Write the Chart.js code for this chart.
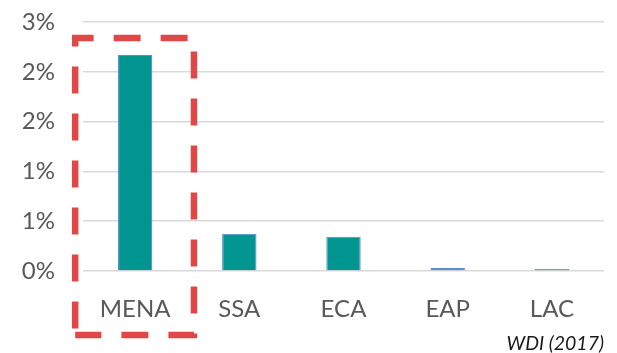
<!DOCTYPE html>
<html>
<head>
<meta charset="utf-8">
<script src="https://cdn.jsdelivr.net/npm/chart.js@4/dist/chart.umd.min.js"></script>
<style>
  html, body { margin: 0; padding: 0; background: #ffffff; }
  #wrap { width: 617px; height: 353px; position: relative; }
</style>
</head>
<body>
<div id="wrap"><canvas id="c" width="617" height="353"></canvas></div>
<script>
// Regions and their share (in percent)
const regions = ['MENA', 'SSA', 'ECA', 'EAP', 'LAC'];
const shares = [2.17, 0.375, 0.345, 0.03, 0.02];
const yTickValues = [0, 0.5, 1, 1.5, 2, 2.5];
const yTickLabels = ['0%', '1%', '1%', '2%', '2%', '3%'];
const sourceNote = 'WDI (2017)';
const highlighted = 'MENA';

const TEXT = '#595959';
const FONT = 'Lato, "Open Sans", sans-serif';

// Dashed red frame around the highlighted region plus the source note
const overlay = {
  id: 'overlay',
  afterDraw(chart) {
    const ctx = chart.ctx;
    const x = chart.scales.x, y = chart.scales.y;
    const catW = (x.right - x.left) / regions.length;
    const cx = x.getPixelForValue(regions.indexOf(highlighted));
    const left = cx - 0.575 * catW;
    const right = cx + 0.565 * catW;
    const top = y.getPixelForValue(2.34);
    const bottom = chart.chartArea.bottom + 64;

    ctx.save();
    ctx.strokeStyle = '#E04848';
    ctx.lineWidth = 6.5;
    ctx.setLineDash([27, 20]);
    ctx.lineDashOffset = 40.5;
    ctx.beginPath();
    ctx.moveTo(left, bottom);
    ctx.lineTo(left, top);
    ctx.lineTo(right, top);
    ctx.lineTo(right, bottom);
    ctx.lineTo(left, bottom);
    ctx.stroke();
    ctx.restore();

    ctx.save();
    ctx.fillStyle = '#1a1a1a';
    ctx.font = 'italic 19.5px ' + FONT;
    ctx.textAlign = 'right';
    ctx.textBaseline = 'middle';
    ctx.fillText(sourceNote, chart.chartArea.right, 344);
    ctx.restore();
  }
};

new Chart(document.getElementById('c'), {
  type: 'bar',
  data: {
    labels: regions,
    datasets: [{
      data: shares,
      backgroundColor: '#00958F',
      borderColor: '#5B8BD0',
      borderWidth: 1.2,
      barPercentage: 0.33,
      categoryPercentage: 1.0
    }]
  },
  options: {
    responsive: false,
    animation: false,
    layout: { padding: { top: 22, right: 13, left: 0, bottom: 0 } },
    plugins: { legend: { display: false }, tooltip: { enabled: false } },
    scales: {
      x: {
        grid: { display: false, drawTicks: false },
        border: { display: false },
        ticks: { color: TEXT, font: { family: FONT, size: 24 }, padding: 24, maxRotation: 0 },
        afterFit(s) { s.height = 82; }
      },
      y: {
        min: 0,
        max: 2.5,
        afterBuildTicks(s) { s.ticks = yTickValues.map(v => ({ value: v })); },
        grid: { color: '#d9d9d9', lineWidth: 1.5, drawTicks: false },
        border: { display: false },
        ticks: {
          color: TEXT,
          font: { family: FONT, size: 24 },
          padding: 28,
          callback: (v) => yTickLabels[yTickValues.indexOf(v)]
        },
        afterFit(s) {
          s.width = 83;
          s.paddingTop = 0;
          s.paddingBottom = 0;
        }
      }
    }
  },
  plugins: [overlay]
});
</script>
</body>
</html>
